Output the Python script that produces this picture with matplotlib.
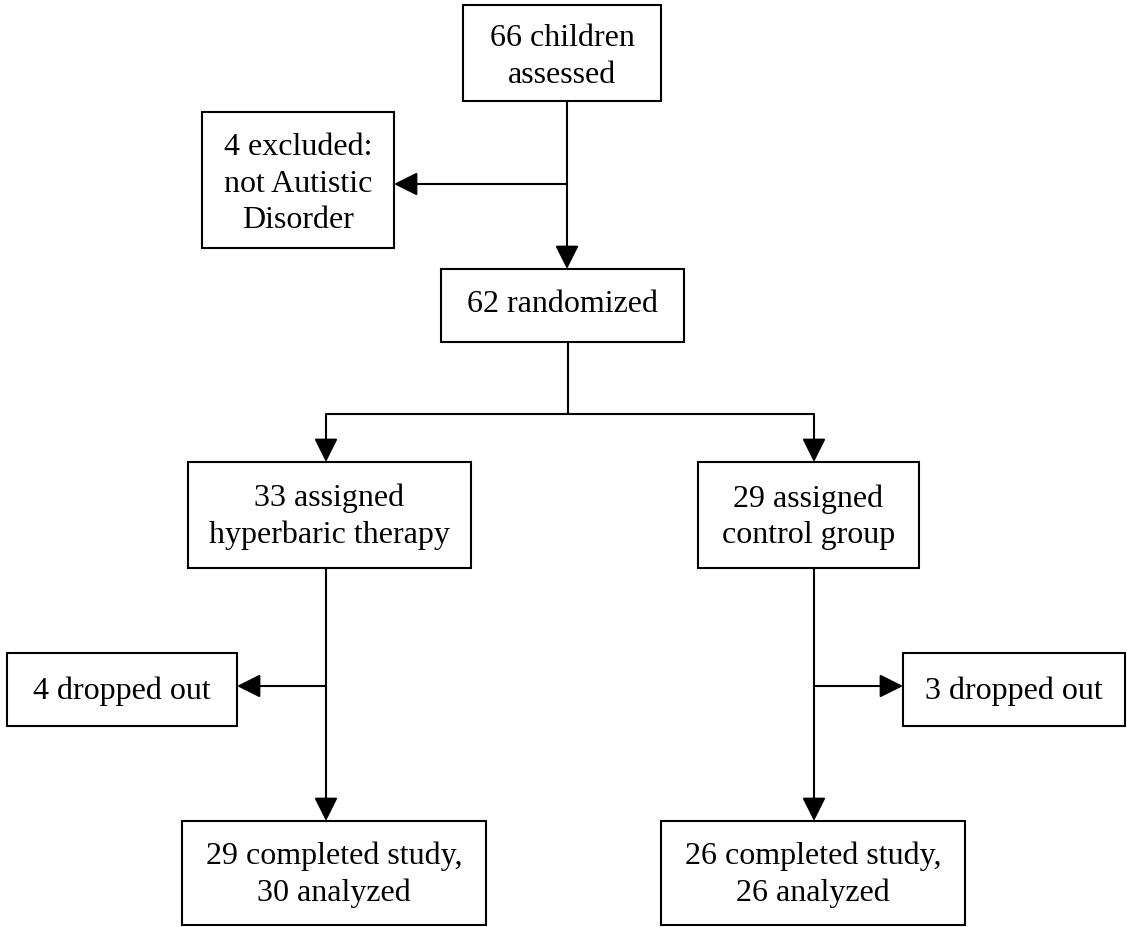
# CONSORT-style flow of children through the hyperbaric study

import matplotlib.pyplot as plt
from matplotlib.patches import Rectangle

# counts at each stage
assessed = 66
excluded = 4
randomized = 62
arm_names = ['hyperbaric therapy', 'control group']
arm_assigned = [33, 29]
arm_dropped = [4, 3]
arm_completed = [29, 26]
arm_analyzed = [30, 26]

# box layout in pixel units (x0, y0, x1, y1), y going down
boxes = {
    'assessed': (463, 6, 661, 102),
    'excluded': (202, 113, 394, 249),
    'randomized': (441, 270, 684, 343),
    'assigned0': (188, 463, 471, 569),
    'assigned1': (698, 463, 919, 569),
    'dropped0': (7, 654, 237, 727),
    'dropped1': (903, 654, 1125, 727),
    'completed0': (182, 822, 486, 926),
    'completed1': (661, 822, 965, 926),
}

labels = {
    'assessed': '%d children\nassessed' % assessed,
    'excluded': '%d excluded:\nnot Autistic\nDisorder' % excluded,
    'randomized': '%d randomized' % randomized,
}
for i in range(2):
    labels['assigned%d' % i] = '%d assigned\n%s' % (arm_assigned[i], arm_names[i])
    labels['dropped%d' % i] = '%d dropped out' % arm_dropped[i]
    labels['completed%d' % i] = '%d completed study,\n%d analyzed' % (arm_completed[i], arm_analyzed[i])

# vertical offsets for text that is not quite centred
text_dy = {'randomized': -2, 'assessed': 3, 'excluded': 3}

fig = plt.figure(figsize=(11.27, 9.28), dpi=100)
ax = fig.add_axes([0, 0, 1, 1])
ax.set_xlim(0, 1127)
ax.set_ylim(928, 0)
ax.axis('off')

lw = 1.5
for key, (x0, y0, x1, y1) in boxes.items():
    ax.add_patch(Rectangle((x0, y0), x1 - x0, y1 - y0, fill=False,
                           edgecolor='black', linewidth=lw))
    ax.text((x0 + x1) / 2, (y0 + y1) / 2 + text_dy.get(key, 1), labels[key],
            ha='center', va='center', fontsize=23, family='Liberation Serif',
            linespacing=1.33)


def line(x, y):
    ax.plot(x, y, color='black', linewidth=lw, solid_capstyle='butt')


def arrow(p0, p1):
    ax.annotate('', xy=p1, xytext=p0,
                arrowprops=dict(arrowstyle='-|>,head_length=0.72,head_width=0.36',
                                color='black', linewidth=lw, shrinkA=0, shrinkB=0,
                                mutation_scale=20))


# assessed -> randomized, with exclusion branch
cx = 567
arrow((cx, 102), (cx, 270))
arrow((cx, 185), (394, 185))

# randomized -> two arms
arm_x = [326, 814]
line([568, 568], [343, 415])
line([arm_x[0], arm_x[1]], [415, 415])
for i in range(2):
    arrow((arm_x[i], 415), (arm_x[i], 463))
    # arm -> completed, with drop-out branch
    arrow((arm_x[i], 569), (arm_x[i], 822))
arrow((arm_x[0], 687), (237, 687))
arrow((arm_x[1], 687), (903, 687))

fig.savefig('out.png', dpi=100)
